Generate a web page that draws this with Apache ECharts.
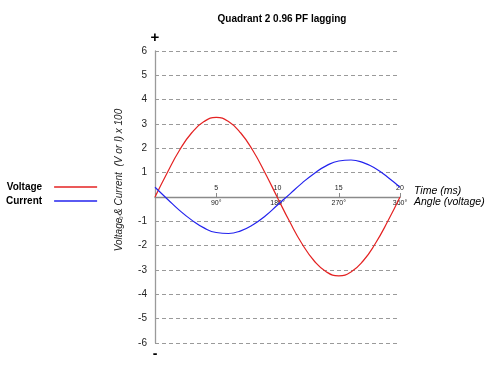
<!DOCTYPE html>
<html>
<head>
<meta charset="utf-8">
<title>Quadrant 2 0.96 PF lagging</title>
<script src="https://cdn.jsdelivr.net/npm/echarts@6/dist/echarts.min.js"></script>
<style>
  html, body { margin: 0; padding: 0; background: #fff; }
  #chart { width: 500px; height: 377px; }
</style>
</head>
<body>
<div id="chart"></div>
<script>
// values, one sample per millisecond
const timeMs = [0, 1, 2, 3, 4, 5, 6, 7, 8, 9, 10, 11, 12, 13, 14, 15, 16, 17, 18, 19, 20];
const voltage = [0, 1.0, 1.92, 2.64, 3.1, 3.27, 3.1, 2.63, 1.9, 0.98, -0.03,
  -1.02, -1.92, -2.63, -3.08, -3.24, -3.08, -2.62, -1.9, -1.0, 0];
const current = [0.4, -0.08, -0.55, -0.95, -1.27, -1.46, -1.5, -1.39, -1.14, -0.78, -0.33,
  0.12, 0.57, 0.97, 1.29, 1.48, 1.52, 1.41, 1.17, 0.81, 0.4];

const timeTicks = [5, 10, 15, 20];
const angleTicks = ["90°", "180°", "270°", "360°"];
const yTicks = [-6, -5, -4, -3, -2, -1, 1, 2, 3, 4, 5, 6];

const font = "Liberation Sans, Arial, sans-serif";

function pairs(xs, ys) {
  return xs.map((x, i) => [x, ys[i]]);
}

const chart = echarts.init(document.getElementById("chart"));

// grid 0 holds the curves, grid 1 ends on the zero line (time labels above it),
// grid 2 starts on the zero line (angle labels below it)
const plotLeft = 155;
const plotRight = 100;
const plotTop = 51;
const plotBottom = 34;
const zeroY = 197;

const hiddenAxis = { show: false, min: -1, max: 1 };

const option = {
  animation: false,
  textStyle: { fontFamily: font },
  title: {
    text: "Quadrant 2 0.96 PF lagging",
    left: 277,
    top: 9,
    textAlign: "center",
    textStyle: { fontSize: 10, fontWeight: "bold", color: "#000", fontFamily: font },
  },
  legend: {
    left: 1,
    top: 176,
    orient: "vertical",
    align: "right",
    icon: "rect",
    itemWidth: 43,
    itemHeight: 1.5,
    itemGap: 2,
    textStyle: {
      fontSize: 10,
      fontWeight: "bold",
      color: "#000",
      lineHeight: 12,
      padding: [0, 7, 0, 0],
      fontFamily: font,
    },
    data: ["Voltage", "Current"],
  },
  grid: [
    { left: plotLeft, right: plotRight, top: plotTop, bottom: plotBottom },
    { left: plotLeft, right: plotRight, top: plotTop, height: zeroY - plotTop },
    { left: plotLeft, right: plotRight, top: zeroY, bottom: plotBottom },
  ],
  xAxis: [
    { gridIndex: 0, type: "value", min: 0, max: 20, show: false },
    {
      gridIndex: 1,
      type: "value",
      position: "bottom",
      min: 0,
      max: 20,
      interval: 5,
      name: "Time (ms)",
      nameLocation: "end",
      nameGap: 14,
      nameTextStyle: {
        fontStyle: "italic",
        fontSize: 10.5,
        color: "#000",
        verticalAlign: "bottom",
        fontFamily: font,
      },
      axisLine: { onZero: false, lineStyle: { color: "#8a8a8a", width: 1.3 } },
      axisTick: { show: true, inside: true, length: 4, lineStyle: { color: "#8a8a8a" } },
      axisLabel: {
        inside: true,
        margin: 5,
        fontSize: 7,
        color: "#222",
        formatter: (v) => (timeTicks.indexOf(v) >= 0 ? String(v) : ""),
      },
      splitLine: { show: false },
    },
    {
      gridIndex: 2,
      type: "value",
      position: "top",
      min: 0,
      max: 20,
      interval: 5,
      name: "Angle (voltage)",
      nameLocation: "end",
      nameGap: 14,
      nameTextStyle: {
        fontStyle: "italic",
        fontSize: 10.5,
        color: "#000",
        verticalAlign: "top",
        fontFamily: font,
      },
      axisLine: { show: false, onZero: false },
      axisTick: { show: false },
      axisLabel: {
        inside: true,
        margin: 3,
        fontSize: 7,
        color: "#222",
        formatter: (v) => {
          const idx = timeTicks.indexOf(v);
          return idx >= 0 ? angleTicks[idx] : "";
        },
      },
      splitLine: { show: false },
    },
  ],
  yAxis: [
    {
      gridIndex: 0,
      type: "value",
      min: -6,
      max: 6,
      interval: 1,
      axisLine: { show: true, lineStyle: { color: "#9a9a9a", width: 1.3 } },
      axisTick: { show: false },
      axisLabel: {
        margin: 8,
        fontSize: 10,
        color: "#222",
        formatter: (v) => (yTicks.indexOf(v) >= 0 ? String(v) : ""),
      },
      splitLine: { lineStyle: { color: "#9a9a9a", type: [4, 3], width: 1 } },
    },
    Object.assign({ gridIndex: 1 }, hiddenAxis),
    Object.assign({ gridIndex: 2 }, hiddenAxis),
  ],
  graphic: [
    {
      type: "text",
      x: 119,
      y: 180,
      rotation: Math.PI / 2,
      style: {
        text: "Voltage & Current  (V or I) x 100",
        font: "italic 10px " + font,
        fill: "#222",
        align: "center",
        verticalAlign: "middle",
      },
    },
    {
      type: "text",
      x: 121,
      y: 217,
      rotation: Math.PI / 2,
      style: {
        text: "0°",
        font: "6px " + font,
        fill: "#444",
        align: "center",
        verticalAlign: "middle",
      },
    },
    {
      type: "text",
      x: 155,
      y: 38,
      style: {
        text: "+",
        font: "bold 15px " + font,
        fill: "#000",
        align: "center",
        verticalAlign: "middle",
      },
    },
    {
      type: "text",
      x: 155,
      y: 354,
      style: {
        text: "-",
        font: "bold 14px " + font,
        fill: "#000",
        align: "center",
        verticalAlign: "middle",
      },
    },
  ],
  series: [
    {
      name: "Voltage",
      type: "line",
      xAxisIndex: 0,
      yAxisIndex: 0,
      smooth: true,
      showSymbol: false,
      color: "#e42222",
      lineStyle: { width: 1.2 },
      data: pairs(timeMs, voltage),
    },
    {
      name: "Current",
      type: "line",
      xAxisIndex: 0,
      yAxisIndex: 0,
      smooth: true,
      showSymbol: false,
      color: "#2323ee",
      lineStyle: { width: 1.2 },
      data: pairs(timeMs, current),
    },
  ],
};

chart.setOption(option);
</script>
</body>
</html>
